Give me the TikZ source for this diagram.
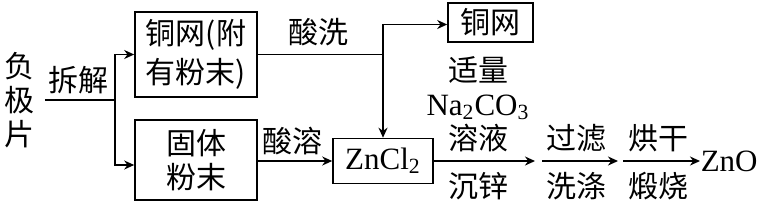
\documentclass[tikz,border=0pt]{standalone}
\usepackage{fontspec}
\setmainfont{Liberation Serif}
\newfontfamily\cjk{Noto Sans CJK SC}
\usetikzlibrary{arrows.meta}

\begin{document}
\begin{tikzpicture}[x = 0.5pt, y = -0.5pt, line width = 0.8pt,
    txt/.style = {font = \fontsize{15}{17}\selectfont\cjk, align = center, inner sep = 0pt},
    box/.style = {draw, txt},
    flow/.style = {-{Stealth[length = 5pt, width = 4.5pt]}}]
    \useasboundingbox (0, 0) rectangle (760, 204);

    % boxes
    \node [box, minimum width = 61pt, minimum height = 42.5pt, font = \fontsize{15}{19.5}\selectfont\cjk] (cuwire) at (196, 54.5) {铜网(附\\有粉末)};
    \node [box, minimum width = 61pt, minimum height = 40pt] (powder) at (196, 160) {固体\\粉末};
    \node [box, minimum width = 42.5pt, minimum height = 19.5pt] (cu) at (490.5, 22.5) {铜网};
    \node [box, minimum width = 50pt, minimum height = 22.5pt, font = \fontsize{15.5}{18}\selectfont] (zncl) at (383, 161) {ZnCl\textsubscript{2}};
    \node [txt, anchor = west, font = \fontsize{15.5}{18}\selectfont] (zno) at (700, 161) {ZnO};

    % labels
    \node [txt, inner xsep = 5pt] (pian) at (19, 100) {负\\极\\片};
    \node [txt] (chaijie) at (78, 80) {拆解};
    \node [txt] (suanxi) at (318, 32) {酸洗};
    \node [txt] (suanrong) at (292, 141) {酸溶};
    \node [txt] (reagent) at (478, 104) {适量\\{\rmfamily\fontsize{15.5}{17}\selectfont Na\textsubscript{2}CO\textsubscript{3}}\\溶液};
    \node [txt] (chenxin) at (478, 186) {沉锌};
    \node [txt] (guolv) at (576, 138) {过滤};
    \node [txt] (xidi) at (576, 186) {洗涤};
    \node [txt] (honggan) at (658, 138) {烘干};
    \node [txt] (duanshao) at (658, 186) {煅烧};

    % connectors
    \coordinate (split) at (115, 100);
    \draw (pian.east) -- (split);
    \draw [flow] (split) |- (cuwire.west);
    \draw [flow] (split) |- ([yshift = -2.5pt]powder.west);
    \draw [flow] (powder.east |- zncl.west) -- (zncl.west);

    \coordinate (join) at (zncl.north |- cuwire.east);
    \draw (cuwire.east) -- (join);
    \draw [flow] (join) |- ([yshift = -1pt]cu.west);
    \draw [flow] (join) -- (zncl.north);

    \coordinate (s1) at (535, 161);
    \coordinate (t1) at (542, 161);
    \coordinate (s2) at (618, 161);
    \coordinate (t2) at (623, 161);
    \draw [flow] (zncl.east) -- (s1);
    \draw [flow] (t1) -- (s2);
    \draw [flow] (t2) -- (zno.west);
\end{tikzpicture}
\end{document}
